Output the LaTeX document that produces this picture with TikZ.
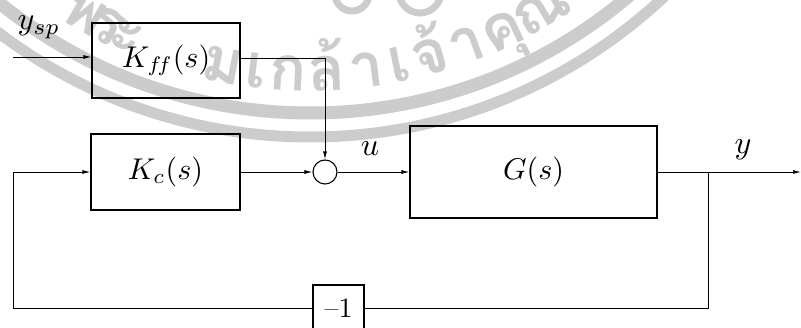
\documentclass[tikz,border=0pt]{standalone}
\usepackage{graphicx}
\usepackage{fontspec}
\newfontfamily\thaifont[Script=Thai]{Loma}
\usetikzlibrary{arrows.meta}
\definecolor{wm}{gray}{0.80}
\begin{document}
\begin{tikzpicture}[x=1pt,y=-1pt,
  blk/.style={draw, line width=1.1pt, inner sep=0pt},
  sumnode/.style={draw, circle, line width=1.1pt, minimum size=24pt, inner sep=0pt},
  lbl/.style={inner sep=0pt},
  wire/.style={line width=0.9pt},
  arr/.style={wire, -{Latex[length=8pt,width=4pt]}},
  wmband/.style={draw=wm},
  wmchar/.style={text=wm, inner sep=0pt, anchor=base, font=\thaifont\bfseries\fontsize{62}{66}\selectfont}]
\useasboundingbox (0,0) rectangle (801,328);
% watermark (behind the diagram)
\begin{scope}
  \clip (0,0) rectangle (801,328);
  \path[wmband, line width=13pt] (310,-380) circle[radius=493];
  \path[wmband, line width=11pt] (310,-380) circle[radius=517];
  \path[wmband, line width=7pt] (352,-6) circle[radius=17];
  \path[wmband, line width=7pt] (420,-8) circle[radius=21];
  \foreach \ch/\xx in {พ/76, ร/98, ะ/120, ม/220, เ/254, ก/287, ล้/327, า/369, เ/403, จ้/435, า/473, คุ/510, ณ/550}{
    \pgfmathsetmacro{\th}{asin((\xx-310)/471)}
    \node[wmchar, rotate=\th] at ({310+471*sin(\th)},{-380+471*cos(\th)}) {\ch};
  }
\end{scope}
% blocks
\node[blk, minimum width=148pt, minimum height=75pt] (Kff) at (166,60.5)
  {\scalebox{3}{$K_{f\!f}(s)$}};
\node[blk, minimum width=149pt, minimum height=76pt] (Kc) at (165.5,172)
  {\scalebox{3}{$K_{c}(s)$}};
\node[sumnode] (sum) at (325,172) {};
\node[blk, minimum width=247pt, minimum height=92pt] (G) at (533.5,172)
  {\scalebox{3}{$G(s)$}};
\node[blk, minimum width=51pt, minimum height=46pt] (M) at (338.5,308)
  {\scalebox{2.8}{\textendash1}};
% labels
\node[lbl] (ysp) at (39,27) {\scalebox{3.2}{$y_{sp}$}};
\node[lbl] (u) at (370,149) {\scalebox{3.2}{$u$}};
\node[lbl] (y) at (743,150) {\scalebox{3.2}{$y$}};
% coordinates
\coordinate (yin) at (13,57);
\coordinate (kc1) at (325,58);
\coordinate (br) at (708,172);
\coordinate (out) at (801,172);
\coordinate (lc) at (13,172);
% connectors
\draw[arr] (yin) -- (Kff.west |- yin);
\draw[arr] (Kff.east |- kc1) -| (sum.north);
\draw[arr] (Kc.east) -- (sum.west);
\draw[arr] (sum.east) -- (G.west);
\draw[wire] (G.east) -- (br);
\draw[arr] (br) -- (out);
\draw[wire] (br) |- (M.east);
\draw[arr] (M.west) -| (lc) -- (Kc.west);
\end{tikzpicture}
\end{document}
